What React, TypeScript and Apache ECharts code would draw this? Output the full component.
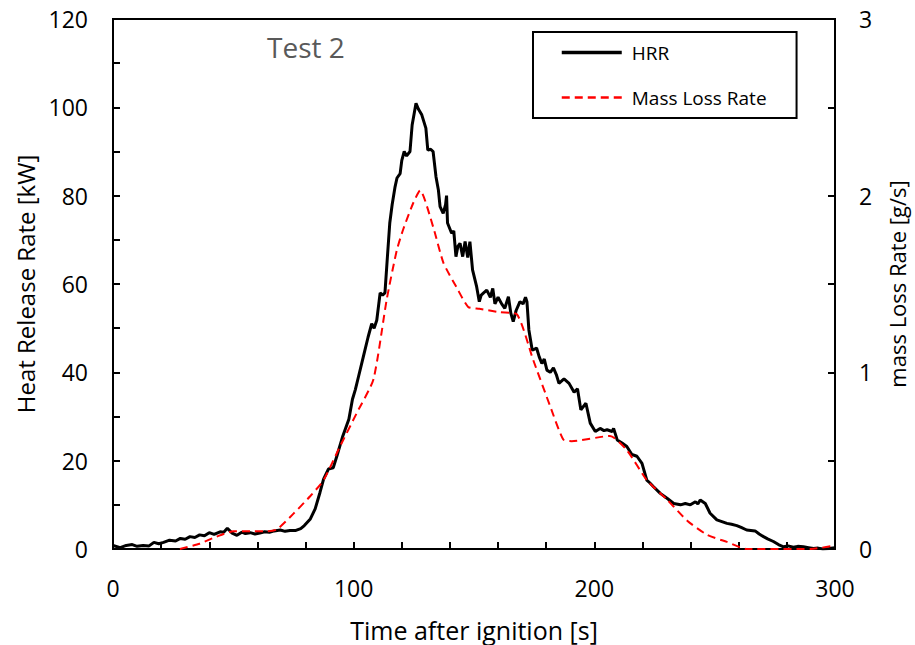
import React, { useEffect, useRef } from "react";
import * as echarts from "echarts";

const hrrTime = [0, 3, 5.5, 8, 10, 12.5, 15, 17, 19, 21, 23.5, 26, 28, 30, 32, 34, 36, 38, 40, 42, 44.5, 46, 47.5, 49.5, 51.5, 53.5, 55, 57, 59, 61, 63, 65, 67, 69.5, 71.5, 73.5, 76, 78, 79.5, 82, 84, 86, 87.5, 89.5, 91.5, 93, 95.5, 98, 99.5, 100.7, 102, 104, 106, 107.5, 108.5, 109.6, 111, 112, 113, 114, 115, 116, 117.2, 118, 119.3, 120, 121, 122, 123.4, 124.3, 125.9, 127, 128.3, 130, 130.8, 132, 133, 134.2, 135.2, 135.9, 137.2, 138.2, 138.6, 139, 140.7, 141.6, 142.5, 143.3, 144.2, 145.3, 146.3, 147.4, 148.3, 149.4, 151.1, 152.2, 153, 154, 155.3, 156.8, 157.8, 158.7, 160, 161.5, 162.8, 164.3, 165.3, 166.3, 167.5, 169.1, 170.4, 171.4, 172, 172.8, 174.2, 176, 177.1, 178.2, 179.2, 180.3, 181.7, 183, 184.2, 185.3, 187.4, 189.5, 191.6, 193, 194.4, 196.5, 198.3, 200.4, 202.4, 204, 205.3, 207.4, 208, 209.5, 211.5, 213.5, 215.6, 217.7, 219.8, 221.8, 223, 224.6, 227.4, 230.2, 233, 235.8, 237.8, 239.9, 242, 243, 244, 246.1, 248.1, 250.9, 253, 255.1, 257, 259.2, 261, 263.3, 266.8, 268.5, 270.3, 272, 274.4, 276.5, 278.6, 280.5, 282.7, 284.5, 286.9, 289, 291, 293, 295, 297.5, 300];
const hrrValues = [0.8, 0.3, 0.8, 1.0, 0.6, 0.8, 0.7, 1.5, 1.2, 1.5, 2.0, 1.8, 2.4, 2.2, 2.8, 2.6, 3.2, 3.0, 3.7, 3.3, 3.9, 3.8, 4.7, 3.6, 3.1, 3.8, 3.5, 3.7, 3.4, 3.6, 3.9, 3.8, 4.1, 4.3, 4.0, 4.2, 4.2, 4.6, 5.3, 6.8, 9.1, 12.8, 15.8, 18.1, 18.4, 21, 25.6, 29.4, 33.9, 36.1, 39, 43.5, 48, 51, 50, 51.8, 58, 57.5, 58, 66, 73.8, 78, 82, 84, 85, 88, 90, 89, 90, 96, 100.9, 99.5, 98.3, 95.3, 90.3, 90.5, 90, 84.3, 81.3, 77.5, 76, 78, 80, 73.8, 71.5, 72, 66.2, 68.5, 69.2, 66.2, 69.6, 66, 69.6, 63.2, 59.4, 56, 57.5, 58, 58.6, 57, 59, 55.5, 57, 55.5, 54.5, 57.1, 53.4, 51.5, 54, 56, 55.5, 57, 56, 49.6, 45, 45.5, 43.5, 42, 43, 40.5, 40, 41, 39.5, 37.5, 38.5, 37.5, 35.5, 36.3, 31.5, 33, 28.5, 26.6, 27.3, 26.8, 27, 26.6, 27.3, 24.7, 24, 23.2, 21.4, 21, 19.4, 15.6, 15, 14.1, 12.6, 11.5, 10.3, 10, 10.3, 10, 10.7, 10.2, 11.1, 10.3, 8.1, 6.6, 6.2, 5.8, 5.6, 5.3, 4.9, 4.3, 4.1, 3.4, 2.8, 2.3, 1.7, 1.0, 0.5, 0.7, 0.4, 0.6, 0.5, 0.3, 0.1, 0.2, 0, 0.1, 0.3];

const mlrTime = [27.8, 36, 43, 50, 57, 64, 68, 75, 82, 87.5, 94.3, 101.3, 108.2, 113.7, 117.9, 120.6, 124.8, 127.6, 133.1, 137.3, 142.8, 147.6, 152.2, 160.8, 167.7, 174.6, 181.6, 187.1, 190.6, 206.5, 213.5, 221.8, 230.2, 238.6, 246.9, 255.1, 263.3, 290, 300];
const mlrValues = [0, 0.03, 0.07, 0.1, 0.1, 0.1, 0.11, 0.2, 0.3, 0.39, 0.58, 0.77, 0.96, 1.41, 1.69, 1.81, 1.96, 2.03, 1.82, 1.62, 1.48, 1.37, 1.36, 1.34, 1.33, 1.07, 0.81, 0.62, 0.61, 0.64, 0.56, 0.39, 0.28, 0.16, 0.08, 0.04, 0, 0, 0.02];

const xTicks = { min: 0, max: 300, interval: 100 };
const yLeftTicks = { min: 0, max: 120, interval: 20 };
const yRightTicks = { min: 0, max: 3, interval: 1 };

const FONT = "Open Sans";

export default function App() {
  const ref = useRef<HTMLDivElement>(null);
  useEffect(() => {
    if (!ref.current) return;
    const chart = echarts.init(ref.current, undefined, { renderer: "svg" });
    const hrr = hrrTime.map((t, i) => [t, hrrValues[i]]);
    const mlr = mlrTime.map((t, i) => [t, mlrValues[i]]);
    const axisLine = { show: true, lineStyle: { color: "#000", width: 2 } };
    const tick = { show: true, inside: true, length: 7, lineStyle: { color: "#000", width: 2 } };
    const minorTick = { show: true, length: 7, lineStyle: { color: "#000", width: 2 } };
    const tickLabel = { color: "#000", fontFamily: FONT, fontSize: 23 };
    const nameStyle = { color: "#000", fontFamily: FONT, fontSize: 24 };
    chart.setOption({
      animation: false,
      backgroundColor: "#fff",
      title: {
        text: "Test 2",
        left: 267,
        top: 33,
        padding: 0,
        textStyle: { color: "#595959", fontFamily: FONT, fontSize: 28, fontWeight: "normal" },
      },
      legend: {
        left: 533,
        top: 32,
        orient: "vertical",
        itemWidth: 60,
        itemHeight: 19,
        itemGap: 26,
        padding: [11, 30, 11, 27],
        borderColor: "#000",
        borderWidth: 2,
        backgroundColor: "#fff",
        itemStyle: { opacity: 0 },
        textStyle: { color: "#000", fontFamily: FONT, fontSize: 19, padding: [0, 0, 0, 5] },
        data: [
          { name: "HRR", lineStyle: { width: 3.5, color: "#000" } },
          { name: "Mass Loss Rate", lineStyle: { width: 2.5, color: "#ff0000", type: [8, 5] } },
        ],
      },
      grid: {
        left: 113,
        right: 80,
        top: 19,
        bottom: 96,
        show: true,
        borderColor: "#000",
        borderWidth: 2,
        backgroundColor: "transparent",
        outerBoundsMode: "none",
        containLabel: false,
      },
      xAxis: {
        type: "value",
        ...xTicks,
        name: "Time after ignition [s]",
        nameLocation: "middle",
        nameGap: 68,
        nameTextStyle: { ...nameStyle, fontSize: 25 },
        axisLine,
        axisTick: tick,
        minorTick: { ...minorTick, splitNumber: 5 },
        splitLine: { show: false },
        axisLabel: { ...tickLabel, margin: 27 },
      },
      yAxis: [
        {
          type: "value",
          ...yLeftTicks,
          name: "Heat Release Rate [kW]",
          nameLocation: "middle",
          nameGap: 76,
          nameRotate: 90,
          nameTextStyle: nameStyle,
          axisLine,
          axisTick: tick,
          minorTick: { ...minorTick, splitNumber: 2 },
          splitLine: { show: false },
          axisLabel: { ...tickLabel, margin: 25 },
        },
        {
          type: "value",
          position: "right",
          ...yRightTicks,
          name: "mass Loss Rate [g/s]",
          nameLocation: "middle",
          nameGap: 51,
          nameRotate: 90,
          nameTextStyle: { ...nameStyle, fontSize: 22 },
          axisLine,
          axisTick: tick,
          minorTick: { ...minorTick, splitNumber: 2 },
          splitLine: { show: false },
          axisLabel: { ...tickLabel, margin: 24 },
        },
      ],
      series: [
        {
          name: "HRR",
          type: "line",
          data: hrr,
          yAxisIndex: 0,
          symbol: "none",
          lineStyle: { color: "#000", width: 3 },
          itemStyle: { color: "#000" },
          z: 3,
        },
        {
          name: "Mass Loss Rate",
          type: "line",
          data: mlr,
          yAxisIndex: 1,
          symbol: "none",
          smooth: 0.2,
          lineStyle: { color: "#ff0000", width: 2, type: [8, 5] },
          itemStyle: { color: "#ff0000" },
          z: 4,
        },
      ],
    });
    return () => chart.dispose();
  }, []);
  return (
    <div
      ref={ref}
      style={{ position: "fixed", left: 0, top: 0, width: 915, height: 645, background: "#fff" }}
    />
  );
}
